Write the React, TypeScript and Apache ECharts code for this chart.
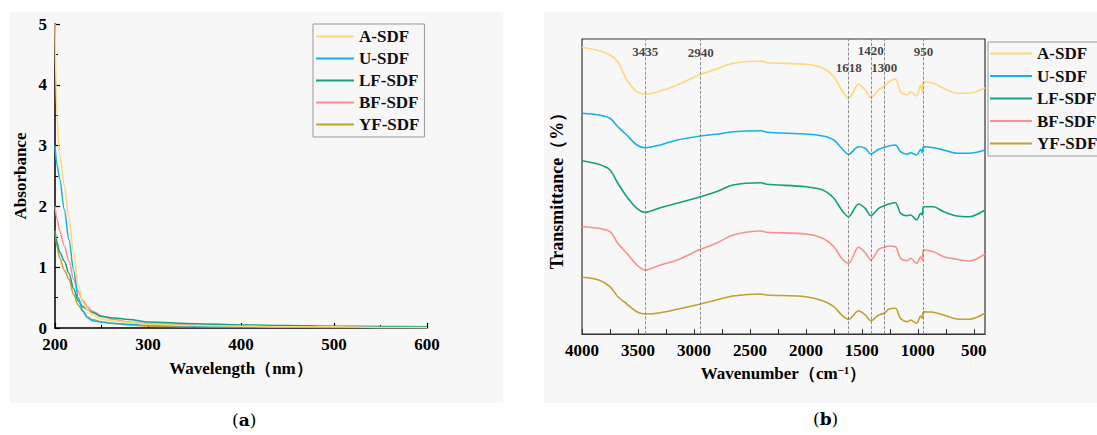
import React, { useEffect, useRef } from "react";
import * as echarts from "echarts";

// ---------- (a) UV absorbance ----------
const uvWavelength = [200, 202, 205, 210, 215, 220, 225, 230, 235, 240, 250, 260, 280, 300, 350, 400, 450, 500, 550, 600];
const uvA = [5.0, 3.5, 2.85, 2.35, 1.8, 1.23, 0.71, 0.41, 0.3, 0.22, 0.15, 0.12, 0.09, 0.06, 0.04, 0.03, 0.02, 0.02, 0.01, 0.01];
const uvU = [3.0, 2.7, 2.45, 1.95, 1.45, 0.95, 0.5, 0.28, 0.17, 0.12, 0.1, 0.08, 0.06, 0.05, 0.03, 0.02, 0.02, 0.015, 0.01, 0.01];
const uvLF = [1.6, 1.42, 1.25, 1.1, 0.9, 0.65, 0.45, 0.35, 0.3, 0.26, 0.19, 0.17, 0.14, 0.1, 0.07, 0.05, 0.04, 0.03, 0.025, 0.02];
const uvBF = [2.0, 1.8, 1.6, 1.35, 1.1, 0.8, 0.6, 0.45, 0.35, 0.28, 0.2, 0.15, 0.1, 0.07, 0.05, 0.03, 0.025, 0.02, 0.015, 0.01];
const uvYF = [1.6, 1.35, 1.15, 0.95, 0.8, 0.55, 0.38, 0.27, 0.18, 0.14, 0.1, 0.08, 0.05, 0.03, 0.02, 0.015, 0.012, 0.01, 0.01, 0.01];

// ---------- (b) FT-IR transmittance (stacked, arbitrary offset units) ----------
const irWavenumber = [4000, 3850, 3750, 3680, 3600, 3510, 3435, 3300, 3150, 2940, 2800, 2650, 2400, 2350, 2000, 1850, 1750, 1680, 1618, 1530, 1470, 1420, 1350, 1300, 1260, 1200, 1155, 1095, 1065, 1010, 975, 960, 950, 860, 770, 650, 540, 400];
const irA = [286.7, 283.3, 279, 272.3, 254, 242.3, 239.7, 243, 249, 259.7, 265, 270.7, 273, 271.3, 269.7, 266, 257.3, 244, 235.7, 249.7, 244, 236.3, 244, 248, 252, 255, 242.3, 239, 242.3, 238, 249, 242.3, 252.3, 250.7, 245.7, 240.7, 240.7, 246.3];
const irU = [220.7, 219, 215.7, 207.3, 199, 189, 186.3, 189, 194, 198, 199.7, 202.3, 203.3, 201.7, 200, 198, 194, 185.7, 179.7, 187.3, 185.7, 180, 184.7, 186.7, 188, 189, 182.3, 179.7, 181.3, 179, 184.7, 181.3, 187.3, 186.3, 184, 180.7, 180.7, 184];
const irLF = [173.3, 169.7, 164, 150.7, 137.3, 125.7, 121.7, 126.3, 130.7, 137.3, 142.3, 149, 151.3, 149.7, 147.3, 144, 135.7, 124, 117.3, 130, 125.7, 118.3, 125.7, 128.3, 130, 131.3, 120.7, 118.3, 119, 114, 120.7, 119, 127.3, 127.3, 122.3, 118, 117.3, 124];
const irBF = [107.3, 105.7, 102.3, 90.7, 80.7, 69, 64, 69, 74, 84.7, 90.7, 99, 103, 101.7, 100, 95.7, 87.3, 75.7, 70.7, 86.7, 81.3, 74, 84.7, 86.7, 88, 87.3, 75.7, 73.3, 75.7, 70.7, 77.3, 74, 84, 82.3, 77.3, 74.7, 73, 80];
const irYF = [56.7, 54, 47.3, 37.3, 30, 22.3, 20, 21.3, 24.7, 30, 34, 38, 40, 39, 37.3, 33.3, 27.3, 19, 14.7, 23.3, 19, 13.3, 19, 20.7, 24.7, 25.7, 15.7, 12.3, 14, 10.7, 18, 15.7, 22.3, 21.7, 19, 15, 14.7, 20.7];

const peakWavenumbers = [3435, 2940, 1618, 1420, 1300, 950];
const peakLabelLevels = [283, 282, 267, 284, 267, 283];

const seriesNames = ["A-SDF", "U-SDF", "LF-SDF", "BF-SDF", "YF-SDF"];
const seriesColors = ["#ffd67a", "#14b2e4", "#12a07f", "#f7918b", "#bfa12e"];
const uvValues = [uvA, uvU, uvLF, uvBF, uvYF];
const irValues = [irA, irU, irLF, irBF, irYF];

const irLabelTicks = [4000, 3500, 3000, 2500, 2000, 1500, 1000, 500];
const irAllTicks = [4000, 3750, 3500, 3250, 3000, 2750, 2500, 2250, 2000, 1750, 1500, 1250, 1000, 750, 500];

const FONT = "'Times New Roman', 'Liberation Serif', serif";

export default function App() {
  const ref = useRef<HTMLDivElement>(null);
  useEffect(() => {
    document.body.style.margin = "0";
    const chart = echarts.init(ref.current!, null, { renderer: "svg" });
    const labelStyle = { fontFamily: FONT, fontWeight: "bold", fontSize: 17, color: "#000" };
    const plain = (v: number) => String(v);

    const uvSeries = seriesNames.map((name, k) => ({
      name,
      type: "line",
      xAxisIndex: 0,
      yAxisIndex: 0,
      symbol: "none",
      smooth: 0.3,
      smoothMonotone: "x",
      color: seriesColors[k],
      lineStyle: { width: 1.5, color: seriesColors[k] },
      data: uvWavelength.map((w, i) => [w, uvValues[k][i]]),
      z: 10 - k,
    }));

    const irSeries = seriesNames.map((name, k) => ({
      name,
      type: "line",
      xAxisIndex: 1,
      yAxisIndex: 1,
      symbol: "none",
      smooth: 0.3,
      color: seriesColors[k],
      lineStyle: { width: 1.6, color: seriesColors[k] },
      data: irWavenumber.map((w, i) => [w, irValues[k][i]]),
    }));

    const peakSeries = {
      name: "peaks",
      type: "scatter",
      xAxisIndex: 1,
      yAxisIndex: 1,
      symbolSize: 0,
      silent: true,
      data: peakWavenumbers.map((w, i) => [w, peakLabelLevels[i]]),
      label: {
        show: true,
        position: "inside",
        formatter: (p: any) => String(p.value[0]),
        fontFamily: FONT,
        fontWeight: "bold",
        fontSize: 13,
        color: "#111",
      },
      markLine: {
        silent: true,
        symbol: ["none", "none"],
        label: { show: false },
        lineStyle: { type: "dashed", color: "#777", width: 0.8 },
        data: peakWavenumbers.map((w) => ({ xAxis: w })),
      },
    };

    const legendCommon = {
      orient: "vertical",
      icon: "rect",
      itemGap: 5,
      itemHeight: 2,
      borderColor: "#999",
      borderWidth: 1,
      borderRadius: 0,
      data: seriesNames,
      textStyle: { fontFamily: FONT, fontWeight: "bold", fontSize: 17, lineHeight: 17, color: "#111" },
      selectedMode: false,
    };

    chart.setOption({
      animation: false,
      graphic: {
        elements: [
          { type: "rect", z: -10, shape: { x: 10, y: 12, width: 493, height: 391 }, style: { fill: "#f7f7f7" } },
          { type: "rect", z: -10, shape: { x: 544, y: 12, width: 553, height: 391 }, style: { fill: "#f7f7f7" } },
          {
            type: "text", left: 232, top: 411,
            style: { text: "({b|a})", fontFamily: "'DejaVu Serif', serif", fontSize: 17, fill: "#000",
              rich: { b: { fontFamily: "'DejaVu Serif', serif", fontSize: 17, fontWeight: "bold" } } },
          },
          {
            type: "text", left: 813, top: 410,
            style: { text: "({b|b})", fontFamily: "'DejaVu Serif', serif", fontSize: 17, fill: "#000",
              rich: { b: { fontFamily: "'DejaVu Serif', serif", fontSize: 17, fontWeight: "bold" } } },
          },
        ],
      },
      legend: [
        { ...legendCommon, left: 313, top: 24, itemWidth: 38, padding: [4, 5, 4, 3] },
        { ...legendCommon, left: 988, top: 42, itemWidth: 42, itemGap: 5.5, padding: [3, 6, 4, 2] },
      ],
      grid: [
        { left: 55, top: 24, width: 372, height: 304 },
        { left: 582, top: 39, width: 403, height: 295, show: true, borderColor: "#333", borderWidth: 1.2, backgroundColor: "transparent" },
      ],
      xAxis: [
        {
          gridIndex: 0, type: "value", min: 200, max: 600, interval: 100,
          name: "Wavelength（nm）", nameLocation: "middle", nameGap: 32,
          nameTextStyle: { ...labelStyle },
          axisLine: { lineStyle: { color: "#000", width: 1.5 } },
          axisTick: { inside: true, length: 5, lineStyle: { color: "#000", width: 1.2 } },
          minorTick: { show: true, splitNumber: 2, length: 3, lineStyle: { color: "#000", width: 1 } },
          axisLabel: { ...labelStyle, margin: 8, formatter: plain },
          splitLine: { show: false },
        },
        {
          gridIndex: 1, type: "value", min: 400, max: 4000, inverse: true,
          name: "Wavenumber（cm{sup|−1}）", nameLocation: "middle", nameGap: 30,
          nameTextStyle: { ...labelStyle, rich: { sup: { fontFamily: FONT, fontWeight: "bold", fontSize: 11, verticalAlign: "top", padding: [0, 0, 8, 0] } } },
          axisLine: { lineStyle: { color: "#333", width: 1.2 } },
          axisTick: { inside: true, length: 5, customValues: irAllTicks, lineStyle: { color: "#333", width: 1 } },
          axisLabel: { ...labelStyle, margin: 8, customValues: irLabelTicks, formatter: plain },
          splitLine: { show: false },
        },
      ],
      yAxis: [
        {
          gridIndex: 0, type: "value", min: 0, max: 5, interval: 1,
          name: "Absorbance", nameLocation: "middle", nameGap: 26,
          nameTextStyle: { ...labelStyle },
          axisLine: { show: true, lineStyle: { color: "#000", width: 1.5 } },
          axisTick: { show: true, inside: true, length: 5, lineStyle: { color: "#000", width: 1.2 } },
          minorTick: { show: true, splitNumber: 2, length: 3, lineStyle: { color: "#000", width: 1 } },
          axisLabel: { ...labelStyle, margin: 8, formatter: plain },
          splitLine: { show: false },
        },
        {
          gridIndex: 1, type: "value", min: 0, max: 295,
          name: "Transmittance（%）", nameLocation: "middle", nameGap: 16,
          nameTextStyle: { ...labelStyle, fontSize: 18 },
          axisLine: { show: false },
          axisTick: { show: false },
          axisLabel: { show: false },
          splitLine: { show: false },
        },
      ],
      series: [...uvSeries, ...irSeries, peakSeries],
    });
    return () => chart.dispose();
  }, []);
  return <div ref={ref} style={{ width: 1097, height: 435 }} />;
}
